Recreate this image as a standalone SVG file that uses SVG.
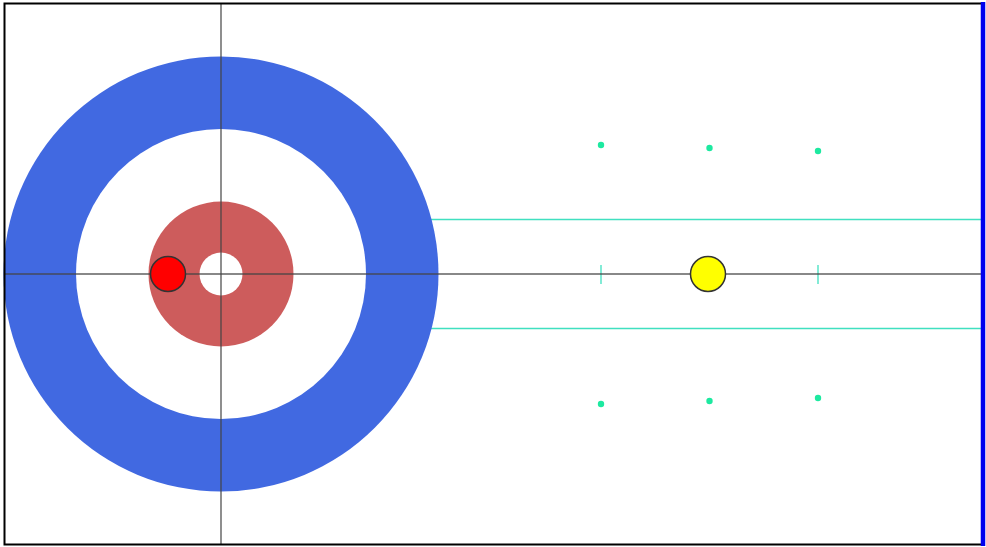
<svg xmlns="http://www.w3.org/2000/svg" width="986" height="547" viewBox="0 0 986 547">
<style>
.guide{stroke:#40e0c0;stroke-width:1.3;fill:none}
.dot{fill:#1de9a0}
.axis{stroke:#444;stroke-width:1.4;opacity:0.85}
.stone{stroke:#333;stroke-width:1.5}
</style>
<rect x="0" y="0" width="986" height="547" fill="#fff"/>
<g id="guides">
<line class="guide" x1="300" y1="219.5" x2="981" y2="219.5"/>
<line class="guide" x1="300" y1="328.5" x2="981" y2="328.5"/>
<line class="guide" x1="601" y1="265" x2="601" y2="284"/>
<line class="guide" x1="818" y1="265" x2="818" y2="284"/>
</g>
<g id="house">
<circle cx="221" cy="274" r="217.5" fill="#4169e1"/>
<circle cx="221" cy="274" r="145" fill="#fff"/>
<circle cx="221" cy="274" r="72.5" fill="#cd5c5c"/>
<circle cx="221" cy="274" r="21.5" fill="#fff"/>
</g>
<g id="dots">
<circle class="dot" cx="601" cy="145" r="3.2"/>
<circle class="dot" cx="709.5" cy="148" r="3.2"/>
<circle class="dot" cx="818" cy="151" r="3.2"/>
<circle class="dot" cx="601" cy="404" r="3.2"/>
<circle class="dot" cx="709.5" cy="401" r="3.2"/>
<circle class="dot" cx="818" cy="398" r="3.2"/>
</g>
<g id="axes">
<line class="axis" x1="221" y1="4" x2="221" y2="545"/>
<line class="axis" x1="4" y1="274" x2="981" y2="274"/>
</g>
<g id="stone-red"><circle class="stone" cx="168" cy="274" r="17.5" fill="#ff0000"/></g>
<g id="stone-yellow"><circle class="stone" cx="708" cy="274" r="17.5" fill="#ffff00"/></g>
<g id="border">
<polyline points="981,3.5 4.5,3.5 4.5,544.5 981,544.5" fill="none" stroke="#000" stroke-width="2"/>
<line x1="983" y1="2" x2="983" y2="546" stroke="#0000ee" stroke-width="4.5"/>
</g>
</svg>
